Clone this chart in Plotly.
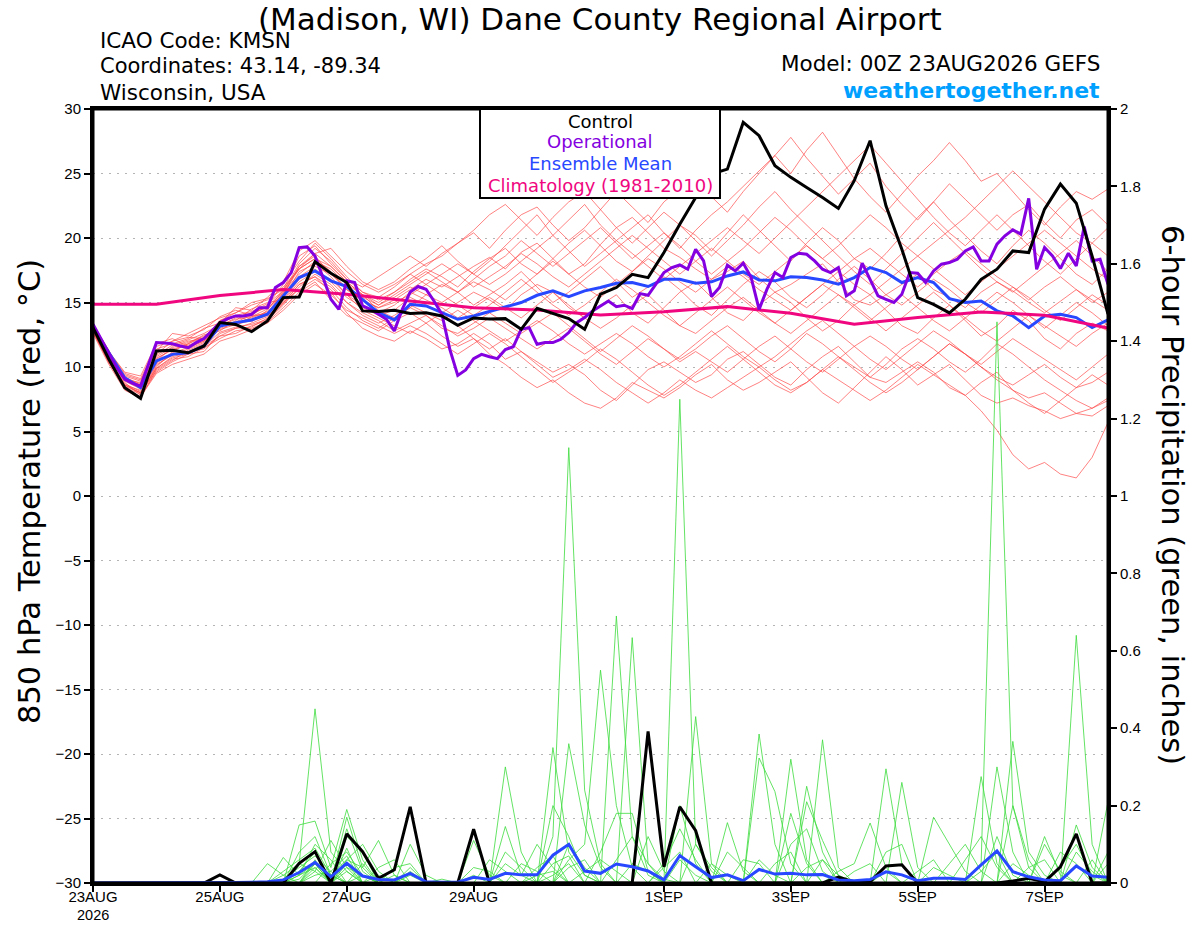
import pandas as pd
import plotly.graph_objects as go

# ---------------- data ----------------
START = "2026-08-23 00:00"
END = "2026-09-08 00:00"

XTICK_DATES = ["2026-08-23", "2026-08-25", "2026-08-27", "2026-08-29",
               "2026-09-01", "2026-09-03", "2026-09-05", "2026-09-07"]
XTICK_LABELS = ["23AUG", "25AUG", "27AUG", "29AUG",
                "1SEP", "3SEP", "5SEP", "7SEP"]
YEAR_LABEL = "2026"
YTICKS_T = [-30, -25, -20, -15, -10, -5, 0, 5, 10, 15, 20, 25, 30]
YTICKS_P = [0, 0.2, 0.4, 0.6, 0.8, 1, 1.2, 1.4, 1.6, 1.8, 2]
YTICKS_P_LABELS = ["0", "0.2", "0.4", "0.6", "0.8", "1", "1.2", "1.4", "1.6", "1.8", "2"]

# 850 hPa temperature, 6-hourly (deg C)
CONTROL_T = [13.05, 10.6, 8.4, 7.57, 11.24, 11.3, 11.1, 11.63, 13.44, 13.3, 12.74, 13.57, 15.38,
             15.43, 18.15, 17.27, 16.55, 14.35, 14.3, 14.4, 14.14, 14.2, 13.96, 13.23, 13.8, 13.72,
             13.75, 12.92, 14.55, 14.17, 13.75, 12.92, 15.64, 16.16, 17.19, 16.93, 18.87, 21.07, 23.14,
             24.95, 25.34, 28.96, 27.93, 25.6, 24.7, 23.92, 23.14, 22.29, 24.44, 27.54, 22.5, 19.13,
             15.38, 14.86, 14.2, 15.25, 16.8, 17.58, 19.0, 18.87, 22.24, 24.18, 22.7, 18.6, 14.1]

MEAN_T = [13.05, 11.1, 9.17, 8.39, 10.47, 10.98, 11.1, 11.63, 13.18, 13.44, 13.65, 14.09, 15.51,
          16.93, 17.45, 16.68, 16.24, 15.25, 14.22, 13.65, 14.86, 14.73, 14.22, 13.7, 13.96, 14.3,
          14.6, 15.0, 15.56, 15.9, 15.46, 15.9, 16.16, 16.49, 16.55, 16.24, 16.8, 16.8, 16.49,
          16.6, 17.06, 17.37, 16.75, 16.68, 16.99, 16.93, 16.75, 16.42, 16.93, 17.71, 17.32, 16.55,
          16.93, 16.55, 15.3, 15.0, 15.12, 14.35, 13.96, 13.05, 13.96, 14.09, 13.83, 13.05, 13.65]

# operational run, 3-hourly
OPER_T = [13.31, 12.15, 11.1, 9.95, 9.04, 8.73, 8.52, 10.2, 11.89, 11.86, 11.8, 11.63, 11.5,
          11.89, 12.2, 12.8, 13.44, 13.75, 13.96, 13.96, 14.09, 14.6, 14.6, 16.16, 16.55, 17.32,
          19.26, 19.31, 18.61, 16.93, 15.25, 14.47, 16.68, 16.55, 14.73, 14.47, 14.09, 13.7, 12.8,
          14.47, 15.82, 16.24, 16.03, 15.12, 14.09, 11.37, 9.35, 9.77, 10.65, 10.98, 10.8, 10.65,
          11.35, 11.57, 12.92, 13.05, 11.76, 11.89, 11.89, 12.15, 12.67, 13.44, 13.83, 14.35, 14.73,
          15.12, 14.68, 14.79, 14.53, 15.69, 15.56, 16.42, 17.32, 17.71, 17.91, 17.58, 19.13, 18.22,
          15.46, 16.16, 17.89, 17.45, 18.05, 16.93, 14.47, 16.03, 17.32, 16.93, 18.48, 18.82, 18.74,
          18.22, 17.58, 17.32, 17.71, 15.51, 15.9, 18.05, 16.8, 15.51, 15.25, 15.0, 15.64, 17.32,
          17.27, 16.55, 17.45, 17.97, 18.1, 18.36, 19.0, 19.31, 18.22, 18.22, 19.52, 20.17, 20.63,
          20.3, 23.07, 17.58, 19.26, 18.61, 17.64, 18.82, 17.84, 20.89, 18.22, 18.36, 16.42]

# climatology (1981-2010), daily
CLIMO_T = [14.86, 14.86, 15.54, 16.0, 15.64, 15.12, 14.6, 14.42, 14.03, 14.29, 14.68, 14.17,
           13.31, 13.83, 14.27, 14.01, 13.03]

# ensemble members, 6-hourly
T_M01 = [13.2, 11.0, 9.2, 8.6, 10.8, 11.5, 11.9, 12.4, 13.2, 13.8, 14.2, 14.6, 15.6,
         17.8, 18.6, 17.2, 16.0, 15.1, 14.6, 15.2, 16.0, 16.8, 16.2, 17.0, 17.8, 18.5,
         17.6, 18.9, 19.6, 18.4, 17.2, 18.0, 19.5, 20.8, 21.6, 20.4, 19.2, 18.5, 17.6,
         16.8, 17.4, 18.2, 16.9, 15.8, 16.4, 17.2, 18.0, 16.6, 15.2, 14.8, 15.6, 16.4,
         17.2, 16.0, 15.4, 14.6, 15.8, 16.6, 15.9, 15.0, 14.2, 15.1, 16.0, 15.2, 14.4]
T_M02 = [12.8, 10.5, 8.8, 7.8, 9.6, 10.4, 11.0, 11.2, 12.6, 13.0, 13.1, 13.8, 15.0,
         16.4, 17.0, 15.8, 14.2, 13.0, 12.4, 12.0, 12.8, 12.2, 11.4, 11.8, 12.6, 11.8,
         10.6, 11.2, 10.4, 9.6, 10.2, 9.4, 8.2, 7.4, 8.6, 9.8, 10.4, 9.6, 8.8,
         9.4, 10.6, 11.2, 10.2, 9.2, 8.6, 9.8, 10.8, 11.6, 10.4, 9.2, 8.8, 9.6,
         10.4, 9.6, 8.4, 7.8, 8.8, 9.6, 8.2, 7.6, 8.0, 7.2, 6.4, 6.8, 7.4]
T_M03 = [13.4, 11.2, 9.6, 9.3, 11.8, 12.2, 11.6, 12.0, 13.6, 14.0, 13.5, 14.4, 16.0,
         18.6, 19.4, 18.0, 16.8, 16.2, 17.0, 17.8, 18.6, 17.8, 18.8, 19.6, 20.4, 19.2,
         20.6, 21.8, 22.4, 21.0, 19.8, 20.8, 22.2, 23.6, 22.4, 21.2, 22.8, 23.8, 24.6,
         23.2, 22.0, 23.6, 25.0, 26.4, 27.8, 26.2, 24.8, 23.4, 24.6, 25.8, 24.0, 22.6,
         21.4, 22.8, 24.2, 23.0, 21.8, 20.6, 21.8, 22.6, 21.2, 20.0, 21.4, 22.2, 21.0]
T_M04 = [13.0, 10.7, 8.5, 8.0, 10.0, 11.2, 11.8, 12.5, 12.8, 13.6, 14.5, 15.0, 15.2,
         16.8, 17.6, 16.6, 15.4, 14.6, 14.0, 14.4, 15.4, 14.8, 14.2, 15.0, 15.8, 15.2,
         14.4, 15.6, 16.4, 15.8, 14.6, 13.8, 14.8, 15.6, 14.2, 13.4, 14.6, 15.8, 16.6,
         15.4, 14.2, 13.6, 14.8, 15.8, 15.0, 13.8, 12.8, 13.6, 14.8, 15.6, 14.4, 13.2,
         12.6, 13.8, 14.8, 13.6, 12.4, 13.2, 14.4, 13.6, 12.2, 11.4, 12.6, 13.4, 12.8]
T_M05 = [12.6, 10.2, 8.2, 7.6, 9.8, 10.6, 10.8, 11.5, 12.2, 12.8, 13.0, 13.5, 14.6,
         15.8, 16.6, 15.2, 14.0, 13.4, 12.8, 13.6, 14.2, 13.4, 12.4, 11.6, 12.2, 11.0,
         10.2, 9.2, 8.4, 9.0, 8.0, 7.2, 6.8, 7.6, 8.8, 8.2, 7.6, 8.4, 9.4,
         10.2, 9.0, 8.2, 8.8, 9.6, 10.4, 9.2, 8.0, 7.2, 8.4, 9.6, 10.8, 9.8,
         8.6, 9.4, 10.2, 9.0, 7.8, 7.2, 7.6, 7.0, 6.6, 6.0, 6.4, 6.2, 7.0]
T_M06 = [13.1, 11.1, 9.4, 9.0, 11.2, 12.6, 12.4, 12.9, 13.9, 14.4, 14.0, 14.8, 16.4,
         18.2, 19.6, 18.4, 17.0, 15.8, 15.2, 15.8, 16.8, 17.6, 17.0, 16.2, 17.4, 18.4,
         19.2, 18.0, 17.2, 18.4, 19.6, 20.6, 19.4, 18.2, 17.4, 18.6, 19.8, 21.0, 20.2,
         19.0, 20.4, 21.8, 20.6, 19.4, 18.2, 19.6, 20.8, 19.8, 18.4, 17.6, 18.8, 20.2,
         21.6, 22.8, 21.4, 20.2, 19.0, 18.0, 19.4, 20.6, 19.6, 18.4, 17.2, 16.4, 17.6]
T_M07 = [12.9, 10.6, 8.6, 8.2, 10.2, 10.9, 11.4, 11.9, 13.4, 13.2, 13.9, 14.2, 15.8,
         17.2, 18.2, 17.6, 16.4, 15.6, 14.4, 13.8, 14.6, 15.6, 16.4, 15.8, 14.8, 15.6,
         16.4, 17.4, 16.2, 15.0, 15.8, 16.8, 17.8, 16.6, 15.4, 16.2, 17.0, 16.0, 14.8,
         14.0, 15.2, 16.4, 17.4, 16.6, 15.4, 14.6, 15.6, 16.8, 17.8, 16.8, 15.6, 14.8,
         15.8, 16.8, 16.0, 15.0, 14.2, 15.2, 16.2, 15.4, 14.4, 13.6, 14.6, 15.6, 14.8]
T_M08 = [13.3, 11.3, 9.0, 8.8, 11.0, 12.0, 12.3, 12.2, 13.6, 14.2, 14.8, 15.2, 16.2,
         17.6, 18.8, 19.2, 17.8, 16.6, 16.0, 16.6, 17.6, 18.4, 19.4, 18.2, 17.2, 18.2,
         19.4, 20.6, 21.8, 20.2, 21.4, 22.6, 21.0, 19.8, 20.8, 21.8, 20.4, 19.2, 20.6,
         21.8, 22.8, 24.0, 25.2, 26.4, 25.0, 26.8, 28.2, 26.4, 24.6, 23.2, 22.0, 23.4,
         24.8, 26.0, 27.4, 26.0, 24.4, 25.0, 23.6, 22.2, 21.0, 22.4, 23.6, 23.0, 23.8]
T_M09 = [12.7, 10.4, 8.4, 7.9, 9.9, 10.8, 11.1, 11.6, 12.4, 12.6, 13.2, 13.6, 14.8,
         16.2, 17.2, 16.4, 15.0, 14.2, 13.6, 12.8, 13.4, 14.0, 13.2, 12.4, 13.0, 13.8,
         13.0, 12.2, 11.4, 12.2, 13.0, 12.0, 11.0, 10.2, 11.2, 12.2, 11.4, 10.6, 11.4,
         12.4, 13.2, 12.2, 11.2, 10.4, 11.4, 12.6, 11.8, 10.8, 10.0, 9.2, 10.2, 11.4,
         12.2, 11.4, 10.4, 9.6, 10.6, 11.8, 11.0, 10.0, 9.0, 8.2, 7.4, 6.8, 7.6]
T_M10 = [13.0, 10.9, 9.1, 8.5, 10.4, 11.6, 12.0, 12.2, 13.0, 13.4, 13.8, 14.3, 15.3,
         17.4, 18.0, 17.0, 15.6, 14.8, 14.2, 14.8, 15.8, 15.2, 14.6, 13.8, 14.6, 15.4,
         14.6, 13.8, 14.8, 15.8, 14.8, 13.8, 13.0, 13.8, 14.8, 15.6, 14.4, 13.2, 12.6,
         13.6, 14.6, 15.4, 14.4, 13.4, 12.6, 13.6, 14.6, 15.6, 14.8, 13.8, 12.8, 13.8,
         14.8, 15.8, 14.8, 13.8, 12.8, 12.0, 13.0, 14.0, 13.2, 12.4, 11.6, 12.6, 13.4]
T_M11 = [13.2, 11.0, 9.3, 8.9, 11.4, 11.8, 12.2, 13.0, 13.4, 14.6, 14.4, 15.4, 16.6,
         19.0, 19.8, 18.6, 17.4, 16.4, 15.8, 16.4, 17.2, 18.0, 18.6, 19.6, 20.6, 21.8,
         22.6, 21.4, 20.2, 21.6, 22.8, 23.6, 22.2, 20.8, 19.6, 20.8, 22.0, 21.0, 19.8,
         18.6, 19.8, 21.0, 22.4, 23.6, 22.2, 21.0, 19.8, 18.6, 17.4, 16.4, 17.6, 18.8,
         20.0, 21.2, 20.0, 18.8, 17.6, 16.6, 15.8, 16.8, 17.8, 18.8, 19.8, 18.6, 17.4]
T_M12 = [12.9, 10.6, 8.7, 8.1, 10.1, 11.0, 11.2, 11.4, 12.4, 13.0, 13.4, 13.9, 15.1,
         16.6, 17.4, 16.8, 15.6, 14.4, 13.8, 13.2, 12.6, 13.4, 14.2, 13.2, 12.2, 11.4,
         12.2, 11.2, 10.2, 9.2, 9.8, 10.6, 9.8, 8.8, 8.0, 7.2, 8.0, 9.0, 8.2,
         7.6, 8.4, 9.2, 10.0, 9.0, 8.2, 8.8, 9.8, 10.8, 9.8, 8.8, 8.0, 8.8,
         9.8, 10.8, 11.8, 11.0, 10.0, 9.0, 8.2, 7.2, 6.4, 7.4, 8.4, 9.4, 8.6]
T_M13 = [13.1, 10.8, 9.0, 8.4, 10.6, 11.4, 11.7, 12.1, 13.1, 13.5, 14.0, 14.1, 15.5,
         17.0, 17.8, 17.2, 16.2, 15.4, 14.8, 15.4, 16.2, 15.6, 15.0, 15.8, 16.6, 16.0,
         15.2, 16.2, 17.2, 18.2, 17.2, 16.2, 15.4, 16.4, 17.4, 18.4, 17.6, 16.6, 15.8,
         16.8, 17.8, 17.0, 16.0, 15.2, 14.4, 15.4, 16.4, 17.4, 18.4, 19.2, 18.2, 17.2,
         16.2, 17.2, 18.2, 19.0, 18.0, 17.0, 16.2, 15.2, 16.2, 17.0, 16.0, 15.0, 15.8]
T_M14 = [12.8, 10.3, 8.6, 8.0, 9.7, 10.5, 11.3, 11.8, 12.9, 13.3, 13.6, 14.0, 15.0,
         16.0, 16.8, 16.0, 14.6, 13.6, 13.0, 13.8, 14.6, 14.0, 13.0, 12.6, 13.4, 14.2,
         13.4, 12.6, 13.4, 14.2, 13.2, 12.2, 11.2, 12.2, 13.2, 12.4, 11.4, 10.4, 11.2,
         10.4, 9.6, 10.6, 11.6, 12.4, 11.4, 10.4, 9.6, 10.6, 11.6, 12.4, 11.6, 10.6,
         9.8, 10.8, 11.8, 11.0, 10.2, 11.2, 12.2, 11.4, 10.6, 9.8, 9.0, 10.0, 11.0]
T_M15 = [13.3, 11.2, 9.5, 9.1, 11.6, 12.0, 12.6, 13.2, 13.8, 14.2, 15.0, 15.3, 16.0,
         17.6, 18.4, 17.8, 16.6, 15.6, 15.0, 15.8, 16.6, 17.4, 16.6, 15.8, 16.8, 17.8,
         18.6, 19.8, 18.8, 17.8, 18.8, 19.8, 20.8, 19.6, 18.4, 19.4, 20.4, 19.4, 18.2,
         17.2, 18.2, 19.2, 20.4, 21.6, 20.6, 19.4, 18.4, 19.4, 20.6, 21.8, 20.8, 19.6,
         18.6, 19.6, 20.6, 21.6, 22.8, 24.0, 25.2, 24.0, 22.8, 21.6, 20.4, 19.6, 20.8]
T_M16 = [12.7, 10.4, 8.3, 7.7, 9.5, 10.2, 10.6, 11.0, 12.0, 12.4, 12.9, 13.4, 14.4,
         15.6, 16.4, 15.6, 14.4, 13.8, 13.2, 12.6, 13.2, 12.6, 11.8, 11.0, 11.8, 12.6,
         11.8, 10.8, 9.8, 8.8, 9.6, 10.4, 11.4, 10.6, 9.6, 8.6, 7.8, 8.6, 9.6,
         10.6, 11.6, 10.6, 9.6, 8.6, 8.0, 8.8, 9.8, 9.0, 8.2, 7.4, 8.2, 9.2,
         10.2, 9.4, 8.6, 7.8, 6.6, 5.1, 3.2, 2.1, 2.6, 1.7, 1.4, 3.0, 5.7]
T_M17 = [13.0, 10.8, 8.9, 8.3, 10.3, 11.1, 11.5, 12.0, 13.2, 13.7, 13.9, 14.5, 15.7,
         17.6, 18.4, 17.4, 16.0, 15.2, 14.6, 15.0, 15.6, 16.4, 15.6, 14.8, 14.0, 14.8,
         15.8, 16.8, 15.8, 14.8, 14.0, 14.8, 15.8, 16.8, 16.0, 15.0, 14.0, 13.2, 14.2,
         15.2, 16.2, 15.2, 14.2, 13.4, 14.4, 15.4, 16.4, 15.6, 14.6, 13.6, 14.6, 15.6,
         14.6, 13.6, 12.8, 13.8, 14.8, 15.8, 15.0, 14.0, 13.0, 14.0, 15.0, 14.2, 13.2]
T_M18 = [13.2, 11.1, 9.2, 8.7, 10.9, 11.7, 12.1, 12.6, 13.3, 14.0, 14.3, 14.9, 15.9,
         18.0, 19.2, 18.2, 16.8, 15.8, 15.4, 16.2, 17.2, 16.4, 17.2, 18.0, 17.2, 16.4,
         17.2, 18.2, 19.2, 20.2, 19.0, 17.8, 18.8, 19.8, 18.8, 17.8, 16.8, 17.8, 18.8,
         19.8, 20.8, 19.8, 18.8, 20.0, 21.2, 22.4, 23.6, 24.8, 26.0, 27.2, 25.8, 24.4,
         23.0, 21.6, 20.4, 19.4, 20.6, 21.8, 20.6, 19.4, 18.2, 17.2, 18.4, 19.6, 18.6]
T_M19 = [12.8, 10.5, 8.6, 8.0, 9.9, 10.7, 11.0, 11.6, 12.7, 13.1, 13.3, 13.7, 14.9,
         16.4, 17.0, 16.2, 15.0, 14.0, 13.4, 14.0, 14.8, 14.2, 13.6, 14.4, 13.6, 12.8,
         12.0, 12.8, 13.6, 12.8, 11.8, 11.0, 11.8, 12.6, 11.8, 10.8, 10.0, 10.8, 11.8,
         12.8, 11.8, 10.8, 10.0, 10.8, 11.8, 12.8, 13.6, 12.6, 11.6, 10.6, 9.8, 10.8,
         11.8, 12.8, 12.0, 11.0, 10.0, 9.2, 8.6, 9.4, 10.2, 9.2, 8.4, 8.8, 9.6]
T_M20 = [13.1, 10.9, 9.1, 8.6, 10.7, 11.3, 11.8, 12.3, 13.5, 13.9, 14.1, 14.7, 15.8,
         17.8, 18.8, 17.8, 16.6, 15.6, 14.8, 15.6, 16.4, 17.2, 18.0, 17.2, 16.2, 17.0,
         17.8, 18.8, 18.0, 17.0, 16.2, 17.2, 18.2, 19.2, 20.2, 19.2, 18.2, 17.2, 18.2,
         19.2, 18.2, 17.2, 16.4, 17.4, 18.4, 19.4, 18.4, 17.4, 16.4, 15.6, 16.6, 17.6,
         18.6, 17.6, 16.6, 15.6, 16.6, 17.6, 18.6, 19.6, 20.6, 19.6, 18.6, 17.6, 16.8]

# 6-hour precipitation (inches)
CONTROL_P = [0, 0, 0, 0, 0, 0, 0, 0, 0.021, 0, 0, 0, 0,
             0.051, 0.081, 0, 0.127, 0.081, 0.012, 0.034, 0.197, 0, 0, 0, 0.139, 0,
             0, 0, 0, 0, 0, 0, 0, 0, 0, 0.392, 0.042, 0.197, 0.135,
             0, 0, 0, 0, 0, 0, 0, 0, 0.015, 0.003, 0.003, 0.044, 0.047,
             0, 0, 0, 0, 0, 0, 0.005, 0.012, 0.003, 0.042, 0.127, 0, 0]
MEAN_P = [0, 0, 0, 0, 0, 0, 0, 0, 0.001, 0.001, 0.002, 0.003, 0.008,
          0.027, 0.053, 0.016, 0.051, 0.018, 0.009, 0.008, 0.025, 0.003, 0.002, 0.002, 0.015, 0.009,
          0.025, 0.021, 0.021, 0.072, 0.100, 0.031, 0.025, 0.049, 0.042, 0.031, 0.008, 0.071, 0.042,
          0.014, 0.021, 0.006, 0.035, 0.023, 0.025, 0.021, 0.022, 0.008, 0.006, 0.009, 0.029, 0.021,
          0.006, 0.012, 0.012, 0.009, 0.047, 0.083, 0.029, 0.016, 0.008, 0.006, 0.044, 0.018, 0.015]

P_M01 = [0, 0, 0, 0, 0, 0, 0, 0, 0, 0, 0, 0, 0.02,
         0.05, 0.45, 0.08, 0.03, 0, 0, 0, 0, 0, 0, 0, 0, 0,
         0, 0, 0, 0.12, 1.125, 0.24, 0.05, 0, 0, 0, 0, 0, 0,
         0, 0, 0, 0.06, 0.02, 0, 0, 0, 0, 0, 0, 0.03, 0,
         0, 0, 0, 0, 0, 0, 0, 0, 0, 0, 0, 0, 0]
P_M02 = [0, 0, 0, 0, 0, 0, 0, 0, 0, 0, 0, 0, 0,
         0.15, 0.16, 0.04, 0.19, 0.06, 0, 0, 0.02, 0, 0, 0, 0, 0,
         0, 0, 0, 0, 0, 0, 0, 0.69, 0.12, 0.02, 0, 0, 0,
         0, 0, 0, 0, 0, 0, 0, 0.37, 0.04, 0, 0, 0, 0,
         0, 0, 0, 0, 0, 0.12, 0.02, 0, 0, 0, 0, 0, 0]
P_M03 = [0, 0, 0, 0, 0, 0, 0, 0, 0, 0, 0, 0.05, 0.02,
         0, 0, 0, 0.17, 0.04, 0.11, 0.02, 0, 0, 0, 0, 0, 0,
         0.30, 0.08, 0, 0, 0, 0, 0, 0, 0, 0, 0, 1.25, 0.1,
         0.03, 0, 0, 0, 0, 0, 0, 0, 0, 0, 0, 0, 0,
         0, 0, 0, 0, 0.05, 1.45, 0.2, 0.04, 0, 0, 0, 0, 0]
P_M04 = [0, 0, 0, 0, 0, 0, 0, 0, 0, 0, 0, 0, 0.066,
         0.02, 0.05, 0, 0.09, 0, 0, 0, 0.1, 0.02, 0, 0, 0, 0,
         0, 0, 0, 0.35, 0.08, 0.02, 0, 0, 0.634, 0.05, 0.01, 0, 0,
         0, 0, 0, 0, 0, 0.32, 0.06, 0, 0, 0, 0, 0, 0,
         0, 0, 0, 0, 0, 0, 0, 0, 0, 0, 0.64, 0.1, 0]
P_M05 = [0, 0, 0, 0, 0, 0, 0, 0, 0, 0, 0, 0, 0,
         0.08, 0.12, 0.02, 0, 0.05, 0, 0, 0, 0, 0, 0, 0.11, 0.02,
         0, 0, 0, 0, 0.36, 0.15, 0.04, 0, 0, 0, 0, 0, 0.43,
         0.05, 0, 0, 0, 0, 0, 0, 0, 0, 0, 0, 0.295, 0.05,
         0, 0, 0, 0, 0, 0, 0, 0, 0, 0, 0, 0, 0]
P_M06 = [0, 0, 0, 0, 0, 0, 0, 0, 0, 0, 0, 0, 0,
         0, 0.03, 0.11, 0.04, 0, 0, 0, 0, 0, 0, 0, 0, 0,
         0.146, 0.02, 0.1, 0.04, 0, 0, 0, 0, 0, 0, 0, 0, 0,
         0, 0, 0, 0.385, 0.1, 0, 0, 0, 0, 0, 0, 0, 0,
         0, 0, 0, 0, 0, 0, 0.366, 0.08, 0.02, 0, 0, 0, 0]
P_M07 = [0, 0, 0, 0, 0, 0, 0, 0, 0, 0, 0, 0, 0,
         0.03, 0.08, 0, 0.05, 0, 0.04, 0.06, 0, 0, 0, 0, 0, 0,
         0, 0, 0, 0, 0, 0, 0.08, 0.18, 0.18, 0.03, 0, 0, 0,
         0, 0, 0, 0, 0, 0, 0.25, 0.08, 0, 0, 0, 0, 0.26,
         0.04, 0, 0, 0, 0, 0, 0, 0, 0, 0, 0, 0, 0.21]
P_M08 = [0, 0, 0, 0, 0, 0, 0, 0, 0, 0, 0, 0, 0,
         0, 0.06, 0, 0.12, 0.08, 0, 0, 0.04, 0, 0, 0, 0, 0,
         0, 0.05, 0.03, 0, 0.1, 0.04, 0, 0, 0, 0, 0, 0, 0,
         0, 0.156, 0.03, 0, 0, 0, 0, 0, 0, 0, 0, 0, 0,
         0, 0.17, 0.1, 0.03, 0, 0, 0, 0, 0, 0, 0, 0, 0]
P_M09 = [0, 0, 0, 0, 0, 0, 0, 0, 0, 0, 0, 0, 0.01,
         0.04, 0.07, 0.03, 0, 0, 0, 0, 0, 0, 0, 0, 0.04, 0.03,
         0, 0, 0, 0, 0, 0, 0, 0, 0, 0, 0.05, 0.14, 0.06,
         0, 0, 0, 0, 0, 0.18, 0.05, 0, 0, 0, 0, 0, 0,
         0, 0, 0, 0, 0.275, 0.05, 0, 0, 0, 0, 0.15, 0.04, 0]
P_M10 = [0, 0, 0, 0, 0, 0, 0, 0, 0, 0, 0, 0, 0,
         0, 0.05, 0.02, 0.06, 0.1, 0.03, 0, 0, 0, 0, 0, 0, 0,
         0, 0, 0, 0.2, 0.12, 0.02, 0, 0, 0, 0, 0, 0, 0,
         0, 0, 0, 0.323, 0.236, 0.05, 0, 0, 0, 0, 0, 0, 0,
         0, 0, 0, 0, 0, 0, 0, 0, 0.1, 0.03, 0, 0, 0]
P_M11 = [0, 0, 0, 0, 0, 0, 0, 0, 0, 0, 0, 0, 0,
         0.02, 0.04, 0, 0.03, 0, 0, 0.04, 0.05, 0, 0, 0, 0, 0,
         0.05, 0.02, 0, 0, 0, 0, 0, 0.06, 0.12, 0.05, 0, 0, 0,
         0, 0, 0, 0, 0, 0, 0, 0, 0.03, 0.05, 0.155, 0.04, 0,
         0, 0, 0, 0, 0, 0, 0, 0, 0, 0.08, 0.05, 0, 0]
P_M12 = [0, 0, 0, 0, 0, 0, 0, 0, 0, 0, 0, 0, 0,
         0, 0, 0.05, 0.08, 0.02, 0, 0, 0, 0, 0, 0, 0, 0,
         0, 0, 0, 0, 0.06, 0.1, 0.55, 0.2, 0.04, 0, 0, 0, 0,
         0, 0, 0, 0, 0, 0, 0.21, 0.11, 0.02, 0, 0, 0, 0,
         0, 0, 0, 0, 0, 0, 0.2, 0.06, 0, 0, 0, 0, 0.05]
P_M13 = [0, 0, 0, 0, 0, 0, 0, 0, 0, 0, 0, 0, 0,
         0.02, 0.1, 0.06, 0, 0, 0.02, 0, 0, 0, 0, 0, 0, 0.06,
         0.03, 0, 0, 0, 0, 0, 0, 0, 0, 0.12, 0.03, 0, 0,
         0.05, 0.02, 0, 0, 0, 0, 0, 0, 0, 0, 0, 0, 0,
         0, 0, 0.05, 0.1, 0.03, 0, 0, 0, 0, 0, 0, 0, 0]
P_M14 = [0, 0, 0, 0, 0, 0, 0, 0, 0, 0, 0, 0, 0,
         0, 0.04, 0, 0.14, 0.03, 0, 0, 0, 0, 0.01, 0, 0, 0,
         0, 0, 0, 0.05, 0.07, 0, 0, 0, 0, 0, 0, 0.2, 0.05,
         0, 0, 0, 0, 0, 0, 0, 0.06, 0.02, 0, 0, 0, 0,
         0, 0, 0, 0, 0, 0.3, 0.08, 0, 0, 0, 0, 0.06, 0]
P_M15 = [0, 0, 0, 0, 0, 0, 0, 0, 0, 0, 0, 0, 0.03,
         0.06, 0.09, 0.02, 0, 0, 0, 0, 0, 0, 0, 0, 0, 0,
         0, 0, 0.04, 0.07, 0, 0, 0, 0, 0, 0, 0.04, 0.08, 0,
         0, 0, 0, 0, 0.05, 0.08, 0, 0, 0, 0, 0, 0, 0,
         0.03, 0.06, 0, 0, 0, 0, 0, 0, 0.12, 0.02, 0, 0, 0]
P_M16 = [0, 0, 0, 0, 0, 0, 0, 0, 0, 0, 0, 0, 0,
         0, 0, 0, 0.06, 0.04, 0, 0, 0.03, 0, 0, 0, 0, 0,
         0, 0, 0, 0, 0, 0.03, 0.06, 0.03, 0, 0, 0, 0, 0,
         0, 0.08, 0.04, 0, 0, 0, 0, 0, 0, 0, 0, 0.08, 0.1,
         0, 0, 0, 0, 0, 0, 0, 0.04, 0.06, 0, 0, 0, 0.08]
P_M17 = [0, 0, 0, 0, 0, 0, 0, 0, 0, 0, 0, 0, 0,
         0.05, 0.03, 0, 0, 0, 0, 0.02, 0, 0, 0, 0, 0, 0,
         0.08, 0.04, 0, 0, 0, 0, 0, 0, 0.05, 0.03, 0, 0, 0,
         0, 0, 0, 0, 0, 0.1, 0.14, 0.03, 0, 0, 0, 0, 0,
         0, 0, 0, 0.06, 0.12, 0.04, 0, 0, 0, 0, 0, 0, 0]
P_M18 = [0, 0, 0, 0, 0, 0, 0, 0, 0, 0, 0, 0, 0,
         0, 0.02, 0.03, 0.07, 0, 0, 0, 0, 0, 0, 0, 0.02, 0,
         0, 0, 0, 0, 0.04, 0.06, 0, 0, 0, 0, 0, 0, 0.1,
         0.04, 0, 0, 0, 0, 0, 0, 0, 0, 0.03, 0.05, 0, 0,
         0, 0, 0, 0, 0, 0, 0, 0, 0, 0, 0.08, 0.03, 0]
P_M19 = [0, 0, 0, 0, 0, 0, 0, 0, 0, 0, 0, 0, 0,
         0.01, 0.05, 0, 0, 0.02, 0, 0, 0, 0, 0, 0, 0, 0,
         0, 0, 0, 0.02, 0.05, 0, 0, 0, 0, 0, 0, 0, 0,
         0, 0, 0.06, 0.05, 0, 0, 0, 0, 0, 0, 0, 0, 0,
         0, 0.04, 0.02, 0, 0, 0, 0.05, 0.02, 0, 0, 0, 0, 0]
P_M20 = [0, 0, 0, 0, 0, 0, 0, 0, 0, 0, 0, 0, 0,
         0, 0, 0, 0.04, 0.02, 0, 0, 0, 0, 0, 0, 0, 0,
         0, 0, 0.02, 0.03, 0, 0, 0, 0, 0, 0, 0, 0.06, 0.02,
         0, 0, 0, 0, 0, 0, 0.04, 0.06, 0, 0, 0, 0, 0,
         0, 0, 0, 0, 0.03, 0.08, 0, 0, 0, 0.04, 0.1, 0.02, 0]

T_MEMBERS = [T_M01, T_M02, T_M03, T_M04, T_M05, T_M06, T_M07, T_M08, T_M09, T_M10,
             T_M11, T_M12, T_M13, T_M14, T_M15, T_M16, T_M17, T_M18, T_M19, T_M20]
P_MEMBERS = [P_M01, P_M02, P_M03, P_M04, P_M05, P_M06, P_M07, P_M08, P_M09, P_M10,
             P_M11, P_M12, P_M13, P_M14, P_M15, P_M16, P_M17, P_M18, P_M19, P_M20]

for s in T_MEMBERS + P_MEMBERS + [CONTROL_T, MEAN_T, CONTROL_P, MEAN_P]:
    assert len(s) == 65, len(s)
assert len(OPER_T) == 129, len(OPER_T)
assert len(CLIMO_T) == 17

# ---------------- figure ----------------
W, H = 1200, 927
ML, MR, MT, MB = 93, 92, 109, 44
PW = W - ML - MR
PH = H - MT - MB


def fx(px):
    return (px - ML) / PW


def fy(py):
    return (H - MB - py) / PH


t6 = pd.date_range(START, periods=65, freq="6h")
t3 = pd.date_range(START, periods=129, freq="3h")
tday = pd.date_range(START, periods=17, freq="D")

RED = "rgba(255,70,70,0.85)"
GREEN = "rgb(60,220,60)"
PURPLE = "#8400e0"
BLUE = "#2848ff"
MAGENTA = "#f0067f"
FONT = "Liberation Sans, Arial, Helvetica, sans-serif"
HFONT = "DejaVu Sans, Verdana, sans-serif"

fig = go.Figure()

for m in T_MEMBERS:
    fig.add_trace(go.Scatter(x=t6, y=m, mode="lines", line=dict(color=RED, width=0.8),
                             hoverinfo="skip", showlegend=False))
for m in P_MEMBERS:
    fig.add_trace(go.Scatter(x=t6, y=m, mode="lines", line=dict(color=GREEN, width=0.8),
                             yaxis="y2", hoverinfo="skip", showlegend=False))

fig.add_trace(go.Scatter(x=t6, y=CONTROL_P, mode="lines", line=dict(color="black", width=3),
                         yaxis="y2", showlegend=False))
fig.add_trace(go.Scatter(x=t6, y=MEAN_P, mode="lines", line=dict(color=BLUE, width=3),
                         yaxis="y2", showlegend=False))

fig.add_trace(go.Scatter(x=t6, y=MEAN_T, mode="lines", line=dict(color=BLUE, width=3),
                         showlegend=False))
fig.add_trace(go.Scatter(x=tday, y=CLIMO_T, mode="lines", line=dict(color=MAGENTA, width=3),
                         showlegend=False))
fig.add_trace(go.Scatter(x=t3, y=OPER_T, mode="lines", line=dict(color=PURPLE, width=3),
                         showlegend=False))
fig.add_trace(go.Scatter(x=t6, y=CONTROL_T, mode="lines", line=dict(color="black", width=3),
                         showlegend=False))

ann = []


def text(s, px, py, size, color="black", xanchor="center", angle=0, bold=False, family=HFONT):
    if bold:
        s = "<b>" + s + "</b>"
    ann.append(dict(text=s, x=fx(px), y=fy(py), xref="paper", yref="paper",
                    xanchor=xanchor, yanchor="middle", showarrow=False, textangle=angle,
                    font=dict(size=size, color=color, family=family)))


text("(Madison, WI) Dane County Regional Airport", 600, 19, 31)
text("ICAO Code: KMSN", 98, 40, 21.5, xanchor="left")
text("Coordinates: 43.14, -89.34", 98, 66, 21, xanchor="left")
text("Wisconsin, USA", 98, 92, 21.5, xanchor="left")
text("Model: 00Z 23AUG2026 GEFS", 1102, 64, 21.5, xanchor="right")
text("weathertogether.net", 1102, 90, 22, color="#00a0ff", xanchor="right", bold=True)

text("Control", 600, 121, 18)
text("Operational", 600, 142, 18, color=PURPLE)
text("Ensemble Mean", 600, 163, 18, color=BLUE)
text("Climatology (1981-2010)", 600, 185, 18, color=MAGENTA)

text("850 hPa Temperature (red, \u00b0C)", 30, 492, 30.5, angle=-90)
text("6-hour Precipitation (green, inches)", 1172, 495, 30.5, angle=90)

# year line under the first date tick label
ann.append(dict(text=YEAR_LABEL, x=fx(93), y=fy(925), xref="paper", yref="paper",
                xanchor="center", yanchor="bottom", showarrow=False,
                font=dict(size=14.5, color="black", family=FONT)))

axis_common = dict(showline=True, linewidth=3, linecolor="black", ticks="outside",
                   ticklen=6, tickwidth=1.5, tickcolor="black", zeroline=False,
                   automargin=False,
                   tickfont=dict(size=15, color="black", family=FONT))

fig.update_layout(
    width=W, height=H,
    margin=dict(l=ML, r=MR, t=MT, b=MB, pad=0, autoexpand=False),
    paper_bgcolor="white", plot_bgcolor="white",
    font=dict(family=FONT, color="black"),
    showlegend=False,
    xaxis=dict(type="date", range=[START, END], tickvals=XTICK_DATES, ticktext=XTICK_LABELS,
               showgrid=False, mirror=True, ticklabelstandoff=-8, **axis_common),
    yaxis=dict(range=[-30, 30], tickvals=YTICKS_T, showgrid=True, gridcolor="#b4b4b4",
               gridwidth=1, griddash="2px,6px", mirror=True, **axis_common),
    yaxis2=dict(range=[0, 2], tickvals=YTICKS_P, ticktext=YTICKS_P_LABELS, overlaying="y",
                side="right", showgrid=False, **axis_common),
    shapes=[
        dict(type="rect", xref="paper", yref="paper", x0=0, x1=1, y0=0, y1=1,
             line=dict(color="black", width=3), layer="above"),
        dict(type="rect", xref="paper", yref="paper", x0=fx(480), x1=fx(720),
             y0=fy(198), y1=fy(109), fillcolor="white",
             line=dict(color="black", width=2), layer="above"),
    ],
    annotations=ann,
)

fig.write_html("out.html", config={"displayModeBar": False},
               post_script="document.body.style.margin='0';")
